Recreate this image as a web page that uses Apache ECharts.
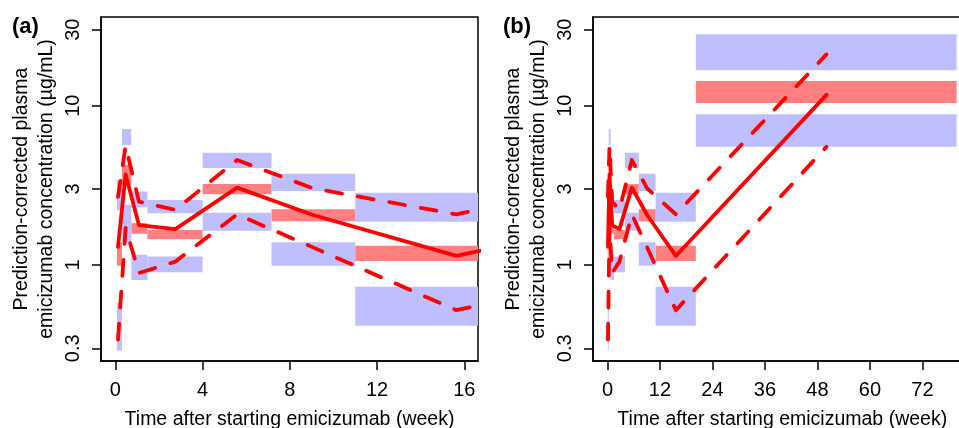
<!DOCTYPE html>
<html><head><meta charset="utf-8">
<script src="https://cdn.jsdelivr.net/npm/echarts@6/dist/echarts.min.js"></script>
<style>html,body{margin:0;padding:0;background:#fff}#chart{width:959px;height:428px}</style>
</head><body><div id="chart"></div>
<script>
// ---- data (weeks, µg/mL) ----
const binStart = [0.07, 0.30, 0.73, 1.47, 4.00, 7.16, 11.0, 20.2];
const binEnd   = [0.30, 0.73, 1.47, 4.00, 7.16, 11.0, 20.2, 79.8];
// simulated CI bands
const upperLo  = [2.21, 5.66, 2.30, 2.11, 4.06, 2.91, 1.87, 16.7];
const upperHi  = [3.42, 7.14, 2.89, 2.56, 5.07, 3.74, 2.84, 28.1];
const medLo    = [0.99, 3.18, 1.57, 1.45, 2.78, 1.88, 1.06, 10.4];
const medHi    = [1.39, 4.24, 1.83, 1.66, 3.22, 2.24, 1.32, 14.3];
const lowerLo  = [0.29, 1.39, 0.805, 0.90, 1.64, 0.99, 0.416, 5.53];
const lowerHi  = [0.577, 2.38, 1.16, 1.13, 2.13, 1.39, 0.73, 8.83];
// observed percentiles
const obsTime  = [0.12, 0.47, 1.08, 2.75, 5.58, 9.06, 15.64, 50.06];
const obsMed   = [1.30, 3.70, 1.78, 1.68, 3.06, 2.06, 1.14, 11.7];
const obsP95   = [2.68, 5.60, 2.50, 2.22, 4.56, 3.03, 2.08, 21.0];
const obsP5    = [0.34, 1.71, 0.89, 1.05, 2.08, 1.29, 0.52, 5.53];
// axes
const yTicks   = [0.3, 1, 3, 10, 30];
const xTicksA  = [0, 4, 8, 12, 16];
const xTicksB  = [0, 12, 24, 36, 48, 60, 72];
const yRange   = [0.2496, 36.06];
const xRangeA  = [-0.66, 16.63];
const xRangeB  = [-3.3, 83.2];

const FONT = "'Liberation Sans', Arial, Helvetica, sans-serif";
const BLUE = 'rgb(191,191,255)';
const PINK = 'rgb(255,128,128)';
const RED = '#ff0000';

function bandData(lo, hi) {
  return binStart.map((s, i) => [s, binEnd[i], lo[i], hi[i]]);
}
function rectRenderer(color) {
  return function (params, api) {
    const p0 = api.coord([api.value(0), api.value(3)]);
    const p1 = api.coord([api.value(1), api.value(2)]);
    const cs = params.coordSys;
    const r = echarts.graphic.clipRectByRect(
      {x: p0[0], y: p0[1], width: p1[0] - p0[0], height: p1[1] - p0[1]},
      {x: cs.x, y: cs.y, width: cs.width, height: cs.height});
    if (!r) return;
    return {type: 'rect', shape: r, style: {fill: color, stroke: null}};
  };
}
function pts(arr) { return obsTime.map((t, i) => [t, arr[i]]); }

const grids = [
  {left: 101, top: 17, width: 377, height: 344},
  {left: 593, top: 17, width: 378.5, height: 344}
];

const xAxes = [], yAxes = [], series = [];
[[xRangeA, xTicksA], [xRangeB, xTicksB]].forEach(([rng, ticks], g) => {
  xAxes.push({
    type: 'value', gridIndex: g, min: rng[0], max: rng[1], position: 'bottom',
    splitLine: {show: false},
    axisLine: {show: true, onZero: false, lineStyle: {color: '#000', width: 1.5}},
    axisTick: {show: true, length: 9, customValues: ticks, lineStyle: {color: '#000', width: 1.5}},
    axisLabel: {customValues: ticks, fontSize: 20, color: '#000', fontFamily: FONT, margin: 19},
    name: 'Time after starting emicizumab (week)', nameLocation: 'middle', nameGap: 49,
    nameTextStyle: {fontSize: 19.5, color: '#000', fontFamily: FONT}
  });
  // data axis (log)
  yAxes.push({
    type: 'log', logBase: 10, gridIndex: g, min: yRange[0], max: yRange[1], show: false,
    position: 'left', splitLine: {show: false}
  });
  // tick/label axis (in log10 units)
  yAxes.push({
    type: 'value', gridIndex: g, min: Math.log10(yRange[0]), max: Math.log10(yRange[1]),
    position: 'left', offset: 0,
    splitLine: {show: false},
    axisLine: {show: true, onZero: false, lineStyle: {color: '#000', width: 1.5}},
    axisTick: {show: true, length: 9, customValues: yTicks.map(Math.log10), lineStyle: {color: '#000', width: 1.5}},
    axisLabel: {customValues: yTicks.map(Math.log10), rotate: 90, fontSize: 20, color: '#000', fontFamily: FONT, margin: 18,
      formatter: v => String(+Math.pow(10, v).toPrecision(2))},
    name: 'Prediction-corrected plasma\nemicizumab concentration (µg/mL)',
    nameLocation: 'middle', nameRotate: 90, nameGap: 42,
    nameTextStyle: {fontSize: 19.5, lineHeight: 25, color: '#000', fontFamily: FONT}
  });
  const yi = g * 2;
  [[upperLo, upperHi, BLUE], [medLo, medHi, PINK], [lowerLo, lowerHi, BLUE]].forEach(([lo, hi, c]) => {
    series.push({
      type: 'custom', xAxisIndex: g, yAxisIndex: yi, renderItem: rectRenderer(c),
      data: bandData(lo, hi), encode: {x: [0, 1], y: [2, 3]}, silent: true, z: 1
    });
  });
  [[obsP95, [16, 16]], [obsP5, [16, 16]], [obsMed, 'solid']].forEach(([arr, type]) => {
    series.push({
      type: 'line', xAxisIndex: g, yAxisIndex: yi, data: pts(arr), symbol: 'none', z: 3,
      clip: true, silent: true,
      lineStyle: {color: RED, width: 3.8, type: type, cap: 'round', join: 'round'}
    });
  });
});

const chart = echarts.init(document.getElementById('chart'), null, {renderer: 'canvas'});
chart.setOption({
  animation: false,
  backgroundColor: '#fff',
  grid: grids.map(g => Object.assign({show: true, borderColor: '#000', borderWidth: 1.5, backgroundColor: 'transparent', containLabel: false, outerBoundsMode: 'none'}, g)),
  xAxis: xAxes, yAxis: yAxes, series: series,
  graphic: [
    {type: 'text', left: 12, top: 16, style: {text: '(a)', font: 'bold 22px ' + FONT, fill: '#000'}},
    {type: 'text', left: 503, top: 16, style: {text: '(b)', font: 'bold 22px ' + FONT, fill: '#000'}}
  ]
});
</script>
</body></html>
